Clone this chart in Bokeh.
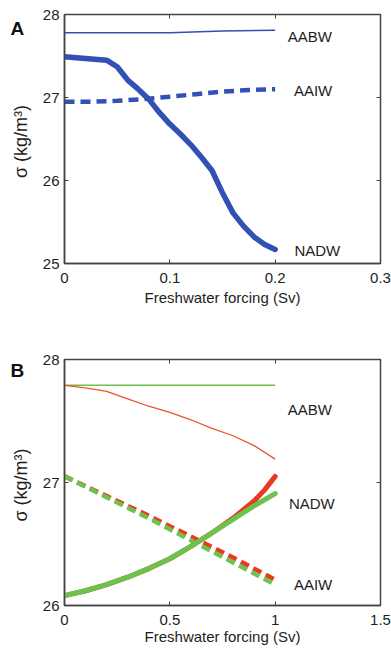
from bokeh.plotting import figure
from bokeh.models import LinearAxis, FixedTicker, Label, Range1d
from bokeh.layouts import column
from bokeh.embed import file_html
from bokeh.resources import INLINE

# ---------------- data: panel A ----------------
a_aabw_x = [0, 0.05, 0.1, 0.15, 0.2]
a_aabw_y = [27.78, 27.78, 27.78, 27.80, 27.81]
a_aaiw_x = [0, 0.025, 0.05, 0.075, 0.1, 0.125, 0.15, 0.175, 0.2]
a_aaiw_y = [26.95, 26.95, 26.96, 26.98, 27.01, 27.04, 27.07, 27.09, 27.10]
a_nadw_x = [0, 0.02, 0.04, 0.05, 0.06, 0.07, 0.08, 0.09, 0.1, 0.11, 0.12,
            0.13, 0.14, 0.15, 0.16, 0.17, 0.18, 0.19, 0.2]
a_nadw_y = [27.49, 27.47, 27.45, 27.37, 27.21, 27.10, 26.98, 26.82, 26.68, 26.56, 26.43,
            26.28, 26.12, 25.85, 25.61, 25.45, 25.32, 25.23, 25.17]
a_xticks = [0, 0.1, 0.2, 0.3]
a_yticks = [25, 26, 27, 28]
a_xlabels = {0: "0", 0.1: "0.1", 0.2: "0.2", 0.3: "0.3"}

# ---------------- data: panel B ----------------
b_aabw_green_x = [0, 0.5, 1.0]
b_aabw_green_y = [27.79, 27.79, 27.79]
b_aabw_red_x = [0, 0.1, 0.2, 0.3, 0.4, 0.5, 0.6, 0.7, 0.8, 0.9, 1.0]
b_aabw_red_y = [27.79, 27.77, 27.74, 27.68, 27.62, 27.57, 27.51, 27.44, 27.38, 27.30, 27.19]
b_aaiw_x = [0, 0.2, 0.4, 0.6, 0.8, 1.0]
b_aaiw_green_y = [27.05, 26.88, 26.71, 26.53, 26.35, 26.17]
b_aaiw_red_y = [27.05, 26.89, 26.73, 26.56, 26.39, 26.21]
b_nadw_x = [0, 0.1, 0.2, 0.3, 0.4, 0.5, 0.6, 0.7, 0.8, 0.9, 0.95, 1.0]
b_nadw_green_y = [26.08, 26.12, 26.17, 26.23, 26.30, 26.38, 26.48, 26.59, 26.70, 26.81, 26.86, 26.91]
b_nadw_red_y = [26.08, 26.12, 26.17, 26.23, 26.30, 26.38, 26.48, 26.59, 26.71, 26.85, 26.94, 27.05]
b_xticks = [0, 0.5, 1, 1.5]
b_yticks = [26, 27, 28]
b_xlabels = {0: "0", 0.5: "0.5", 1: "1", 1.5: "1.5"}

water_masses = ["AABW", "AAIW", "NADW"]
a_label_x = [0.233, 0.236, 0.240]
a_label_y = [27.73, 27.08, 25.16]
b_label_x = [1.165, 1.18, 1.174]
b_label_y = [27.59, 26.17, 26.83]

FONT = "Liberation Sans"
BLUE = "#3350b4"
RED = "#e83a22"
RED_THIN = "#e8552e"
GREEN = "#6cc24c"
AXC = "#444444"
TXT = "#1e1e1e"


def make_fig(h, top, bottom, xr, yr, xticks, yticks, xlabels, xstand, xlabstand):
    p = figure(width=391, height=h, output_backend="svg", toolbar_location=None,
               x_range=Range1d(*xr), y_range=Range1d(*yr),
               min_border_left=64, min_border_right=11,
               min_border_top=top, min_border_bottom=bottom,
               background_fill_color="white", border_fill_color="white")
    p.grid.visible = False
    p.outline_line_color = AXC
    p.outline_line_width = 1.5
    for ax in (p.xaxis[0], p.yaxis[0]):
        ax.major_tick_in = 4
        ax.major_tick_out = 0
        ax.minor_tick_line_color = None
        ax.axis_line_color = AXC
        ax.axis_line_width = 1.5
        ax.major_tick_line_color = AXC
        ax.major_label_text_font = FONT
        ax.major_label_text_font_size = "15px"
        ax.major_label_text_color = TXT
        ax.axis_label_text_font = FONT
        ax.axis_label_text_font_style = "normal"
        ax.axis_label_text_color = TXT
    p.xaxis.ticker = FixedTicker(ticks=xticks)
    p.yaxis.ticker = FixedTicker(ticks=yticks)
    p.xaxis.major_label_overrides = xlabels
    p.xaxis.major_label_standoff = xstand
    p.yaxis.major_label_standoff = 5
    p.xaxis.axis_label = "Freshwater forcing (Sv)"
    p.xaxis.axis_label_text_font_size = "15px"
    p.xaxis.axis_label_standoff = xlabstand
    p.yaxis.axis_label = "σ  (kg/m³)"
    p.yaxis.axis_label_text_font_size = "18px"
    p.yaxis.axis_label_standoff = 9
    # mirrored axes (ticks only, no labels)
    top_ax = LinearAxis(ticker=FixedTicker(ticks=xticks), major_tick_in=4, major_tick_out=0,
                        minor_tick_line_color=None, major_label_text_color=None,
                        major_label_standoff=0, axis_line_color=AXC, major_tick_line_color=AXC)
    right_ax = LinearAxis(ticker=FixedTicker(ticks=yticks), major_tick_in=4, major_tick_out=0,
                          minor_tick_line_color=None, major_label_text_color=None,
                          major_label_standoff=0, axis_line_color=AXC, major_tick_line_color=AXC)
    p.add_layout(top_ax, "above")
    p.add_layout(right_ax, "right")
    return p


def panel_letter(p, letter, x_rel, y_rel, side):
    # placed in a side panel (not clipped by the frame), drawn at the far left
    p.add_layout(Label(x=x_rel, y=y_rel, x_units="screen", y_units="screen", text=letter,
                       text_font=FONT, text_font_size="19px", text_font_style="bold",
                       text_color="#111111", text_align="left", text_baseline="alphabetic"),
                 side)


# ---------- panel A ----------
pa = make_fig(330, 14, 67, (0, 0.3), (25, 28), a_xticks, a_yticks, a_xlabels, 9, 3)
pa.line(a_aabw_x, a_aabw_y, line_color=BLUE, line_width=1.5)
pa.line(a_aaiw_x, a_aaiw_y, line_color=BLUE, line_width=4.5, line_dash="10 6")
pa.line(a_nadw_x, a_nadw_y, line_color=BLUE, line_width=5.5, line_cap="round", line_join="round")
for name, x, y in zip(water_masses, a_label_x, a_label_y):
    pa.add_layout(Label(x=x, y=y, text=name, text_font=FONT, text_font_size="15px",
                        text_color=TXT, text_align="center", text_baseline="middle"))
panel_letter(pa, "A", -54, 301, "below")

# ---------- panel B ----------
pb = make_fig(318, 29, 43, (0, 1.5), (26, 28), b_xticks, b_yticks, b_xlabels, 9, 0)
pb.line(b_aabw_green_x, b_aabw_green_y, line_color=GREEN, line_width=1.5)
pb.line(b_aabw_red_x, b_aabw_red_y, line_color=RED_THIN, line_width=1.3)
pb.line(b_aaiw_x, b_aaiw_red_y, line_color=RED, line_width=4.5, line_dash="9 5")
pb.line(b_aaiw_x, b_aaiw_green_y, line_color=GREEN, line_width=4.5, line_dash="9 5")
pb.line(b_nadw_x, b_nadw_red_y, line_color=RED, line_width=5, line_cap="round", line_join="round")
pb.line(b_nadw_x, b_nadw_green_y, line_color=GREEN, line_width=5, line_cap="round", line_join="round")
for name, x, y in zip(water_masses, b_label_x, b_label_y):
    pb.add_layout(Label(x=x, y=y, text=name, text_font=FONT, text_font_size="15px",
                        text_color=TXT, text_align="center", text_baseline="middle"))
panel_letter(pb, "B", -54, -11, "above")

layout = column(pa, pb, spacing=0)
open("out.html", "w").write(file_html(layout, INLINE))
